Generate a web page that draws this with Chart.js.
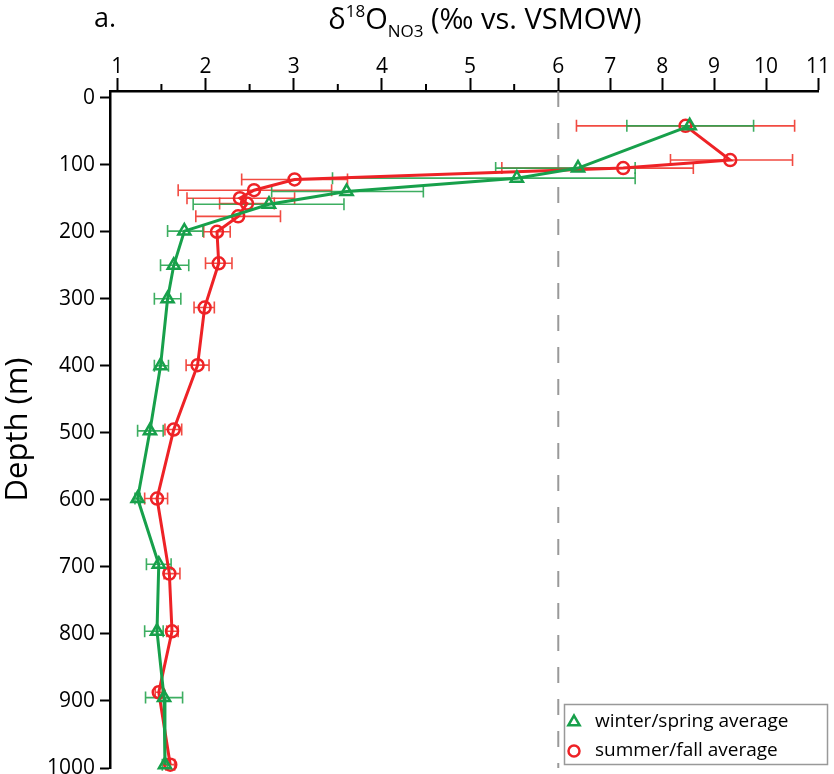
<!DOCTYPE html>
<html>
<head>
<meta charset="utf-8">
<script src="https://cdn.jsdelivr.net/npm/chart.js@4.4.1/dist/chart.umd.min.js"></script>
<style>
  body { margin: 0; background: #fff; }
  canvas { display: block; }
</style>
</head>
<body>
<canvas id="chart_root" width="834" height="774"></canvas>
<script>
// winter/spring average (triangles)
const DEPTH_WS = [42, 105, 120, 140, 159, 199, 250, 300, 400, 497, 598, 696, 796, 895, 995];
const D18O_WS = [8.53, 6.38, 5.53, 3.60, 2.72, 1.76, 1.64, 1.57, 1.49, 1.37, 1.23, 1.47, 1.45, 1.53, 1.54];
const ERR_LO_WS = [7.32, 5.29, 3.44, 2.75, 1.86, 1.57, 1.49, 1.42, 1.42, 1.23, 1.20, 1.33, 1.31, 1.32, 1.51];
const ERR_HI_WS = [9.76, 7.48, 7.48, 4.47, 3.57, 1.97, 1.81, 1.72, 1.58, 1.52, 1.26, 1.61, 1.52, 1.74, 1.57];

// summer/fall average (circles)
const DEPTH_SF = [42, 93, 105, 122, 138, 150, 158, 177, 200, 247, 313, 399, 495, 598, 710, 796, 887, 995];
const D18O_SF = [8.45, 9.31, 7.25, 3.01, 2.55, 2.39, 2.47, 2.37, 2.13, 2.15, 1.99, 1.91, 1.64, 1.45, 1.59, 1.62, 1.47, 1.60];
const ERR_LO_SF = [6.35, 8.16, 5.36, 2.41, 1.69, 1.79, 2.16, 1.89, 1.98, 2.00, 1.87, 1.78, 1.54, 1.31, 1.53, 1.56, 1.43, 1.55];
const ERR_HI_SF = [10.55, 10.51, 8.60, 3.61, 3.43, 3.01, 2.78, 2.85, 2.28, 2.30, 2.10, 2.04, 1.73, 1.57, 1.71, 1.69, 1.51, 1.65];

const X_TICKS = [1, 2, 3, 4, 5, 6, 7, 8, 9, 10, 11];
const X_MINOR_TICKS = [1.5, 2.5, 3.5, 4.5, 5.5];
const Y_TICKS = [0, 100, 200, 300, 400, 500, 600, 700, 800, 900, 1000];
const LEGEND_LABELS = ['winter/spring average', 'summer/fall average'];

const GREEN = '#17a04b';
const RED = '#ee2226';
const GREEN_ERR = 'rgba(40,165,80,0.9)';
const RED_ERR = 'rgba(240,55,45,0.9)';
const FONT = '"Open Sans", "Noto Sans", sans-serif';

// x axis is compressed above 6
const BREAK = 6;
const SQUEEZE = 0.589;

class BrokenLinearScale extends Chart.LinearScale {
  fwd(v) { return v <= BREAK ? v : BREAK + (v - BREAK) * SQUEEZE; }
  inv(u) { return u <= BREAK ? u : BREAK + (u - BREAK) / SQUEEZE; }
  getPixelForValue(value) {
    if (value === null || value === undefined || isNaN(value)) return NaN;
    const a = this.fwd(this.min), b = this.fwd(this.max);
    return this.getPixelForDecimal((this.fwd(value) - a) / (b - a));
  }
  getValueForPixel(pixel) {
    const a = this.fwd(this.min), b = this.fwd(this.max);
    return this.inv(a + this.getDecimalForPixel(pixel) * (b - a));
  }
}
BrokenLinearScale.id = 'brokenLinear';
BrokenLinearScale.defaults = Chart.LinearScale.defaults;
Chart.register(BrokenLinearScale);

const toPoints = (xs, ys) => xs.map((x, i) => ({ x: x, y: ys[i] }));

const overlay = {
  id: 'overlay',
  beforeDatasetsDraw(chart) {
    const ctx = chart.ctx;
    const xs = chart.scales.x, ys = chart.scales.y;
    const area = chart.chartArea;

    // dashed line at 6
    const xb = xs.getPixelForValue(BREAK);
    ctx.save();
    ctx.strokeStyle = '#999';
    ctx.lineWidth = 2;
    ctx.setLineDash([16, 16]);
    ctx.beginPath();
    ctx.moveTo(xb, area.top);
    ctx.lineTo(xb, area.bottom);
    ctx.stroke();
    ctx.restore();

    const drawErr = (depth, lo, hi, color) => {
      ctx.save();
      ctx.strokeStyle = color;
      ctx.lineWidth = 1.6;
      depth.forEach((d, i) => {
        const y = ys.getPixelForValue(d);
        const x1 = xs.getPixelForValue(lo[i]);
        const x2 = xs.getPixelForValue(hi[i]);
        ctx.beginPath();
        ctx.moveTo(x1, y); ctx.lineTo(x2, y);
        ctx.moveTo(x1, y - 6); ctx.lineTo(x1, y + 6);
        ctx.moveTo(x2, y - 6); ctx.lineTo(x2, y + 6);
        ctx.stroke();
      });
      ctx.restore();
    };
    drawErr(DEPTH_SF, ERR_LO_SF, ERR_HI_SF, RED_ERR);
    drawErr(DEPTH_WS, ERR_LO_WS, ERR_HI_WS, GREEN_ERR);
  },
  afterDraw(chart) {
    const ctx = chart.ctx;
    const xs = chart.scales.x;
    const area = chart.chartArea;
    ctx.save();

    // minor ticks on top axis
    ctx.strokeStyle = '#000';
    ctx.lineWidth = 2;
    X_MINOR_TICKS.forEach((v) => {
      const x = xs.getPixelForValue(v);
      ctx.beginPath();
      ctx.moveTo(x, area.top);
      ctx.lineTo(x, area.top - 7);
      ctx.stroke();
    });

    // axis title with super/subscripts
    ctx.fillStyle = '#000';
    ctx.textBaseline = 'alphabetic';
    const base = 29;
    const parts = [
      { t: 'δ', size: 29, dy: 0 },
      { t: '18', size: 17, dy: -12 },
      { t: 'O', size: 29, dy: 0 },
      { t: 'NO3', size: 17, dy: 8 },
      { t: ' (‰ vs. VSMOW)', size: 29, dy: 0 }
    ];
    let total = 0;
    parts.forEach((p) => { ctx.font = p.size + 'px ' + FONT; p.w = ctx.measureText(p.t).width; total += p.w; });
    let x = 485 - total / 2;
    parts.forEach((p) => {
      ctx.font = p.size + 'px ' + FONT;
      ctx.fillText(p.t, x, base + p.dy);
      x += p.w;
    });

    ctx.font = '27px ' + FONT;
    ctx.fillText('a.', 94, 27);

    // legend
    ctx.strokeStyle = '#999';
    ctx.lineWidth = 1.5;
    ctx.strokeRect(564.5, 704.5, 263, 60);
    const items = [
      { style: 'triangle', color: GREEN, r: 6.5, y: 722 },
      { style: 'circle', color: RED, r: 5.5, y: 751 }
    ];
    ctx.font = '19px ' + FONT;
    ctx.textBaseline = 'middle';
    items.forEach((it, i) => {
      ctx.strokeStyle = it.color;
      ctx.fillStyle = 'rgba(0,0,0,0)';
      ctx.lineWidth = 2.5;
      Chart.helpers.drawPoint(ctx, { pointStyle: it.style, radius: it.r, borderWidth: 2.5 }, 574, it.y);
      ctx.fillStyle = '#000';
      ctx.fillText(LEGEND_LABELS[i], 595, it.y);
    });
    ctx.restore();
  }
};

new Chart(document.getElementById('chart_root'), {
  type: 'scatter',
  data: {
    datasets: [
      {
        label: LEGEND_LABELS[0],
        data: toPoints(D18O_WS, DEPTH_WS),
        showLine: true,
        borderColor: GREEN,
        borderWidth: 3,
        pointStyle: 'triangle',
        pointRadius: 7,
        pointBorderWidth: 2.5,
        pointBorderColor: GREEN,
        pointBackgroundColor: 'rgba(0,0,0,0)',
        clip: false
      },
      {
        label: LEGEND_LABELS[1],
        data: toPoints(D18O_SF, DEPTH_SF),
        showLine: true,
        borderColor: RED,
        borderWidth: 3,
        pointStyle: 'circle',
        pointRadius: 6,
        pointBorderWidth: 2.5,
        pointBorderColor: RED,
        pointBackgroundColor: 'rgba(0,0,0,0)',
        clip: false
      }
    ]
  },
  options: {
    responsive: false,
    animation: false,
    layout: { autoPadding: false, padding: { top: 0, right: 16, bottom: 6, left: 0 } },
    plugins: {
      legend: { display: false },
      title: { display: false },
      tooltip: { enabled: false }
    },
    scales: {
      x: {
        type: 'brokenLinear',
        position: 'top',
        min: 0.917,
        max: 11,
        afterBuildTicks: (scale) => { scale.ticks = X_TICKS.map((v) => ({ value: v })); },
        afterFit: (scale) => { scale.height = 91; scale.paddingLeft = 0; scale.paddingRight = 0; },
        ticks: {
          color: '#000',
          padding: -2,
          maxRotation: 0,
          autoSkip: false,
          font: { family: FONT, size: 21 },
          callback: (v) => String(v)
        },
        grid: { drawOnChartArea: false, drawTicks: true, tickLength: 13, tickColor: '#000', tickWidth: 2 },
        border: { display: true, color: '#000', width: 2.5 }
      },
      y: {
        type: 'linear',
        reverse: true,
        min: -10,
        max: 1000,
        afterBuildTicks: (scale) => { scale.ticks = Y_TICKS.map((v) => ({ value: v })); },
        afterFit: (scale) => { scale.width = 110; scale.paddingTop = 0; scale.paddingBottom = 0; },
        title: {
          display: true,
          text: 'Depth (m)',
          color: '#000',
          font: { family: FONT, size: 31 },
          padding: { top: 0, bottom: 0 }
        },
        ticks: {
          color: '#000',
          padding: 5,
          autoSkip: false,
          font: { family: FONT, size: 21 },
          callback: (v) => String(v)
        },
        grid: { drawOnChartArea: false, drawTicks: true, tickLength: 10, tickColor: '#000', tickWidth: 2 },
        border: { display: true, color: '#000', width: 2.5 }
      }
    }
  },
  plugins: [overlay]
});
</script>
</body>
</html>
